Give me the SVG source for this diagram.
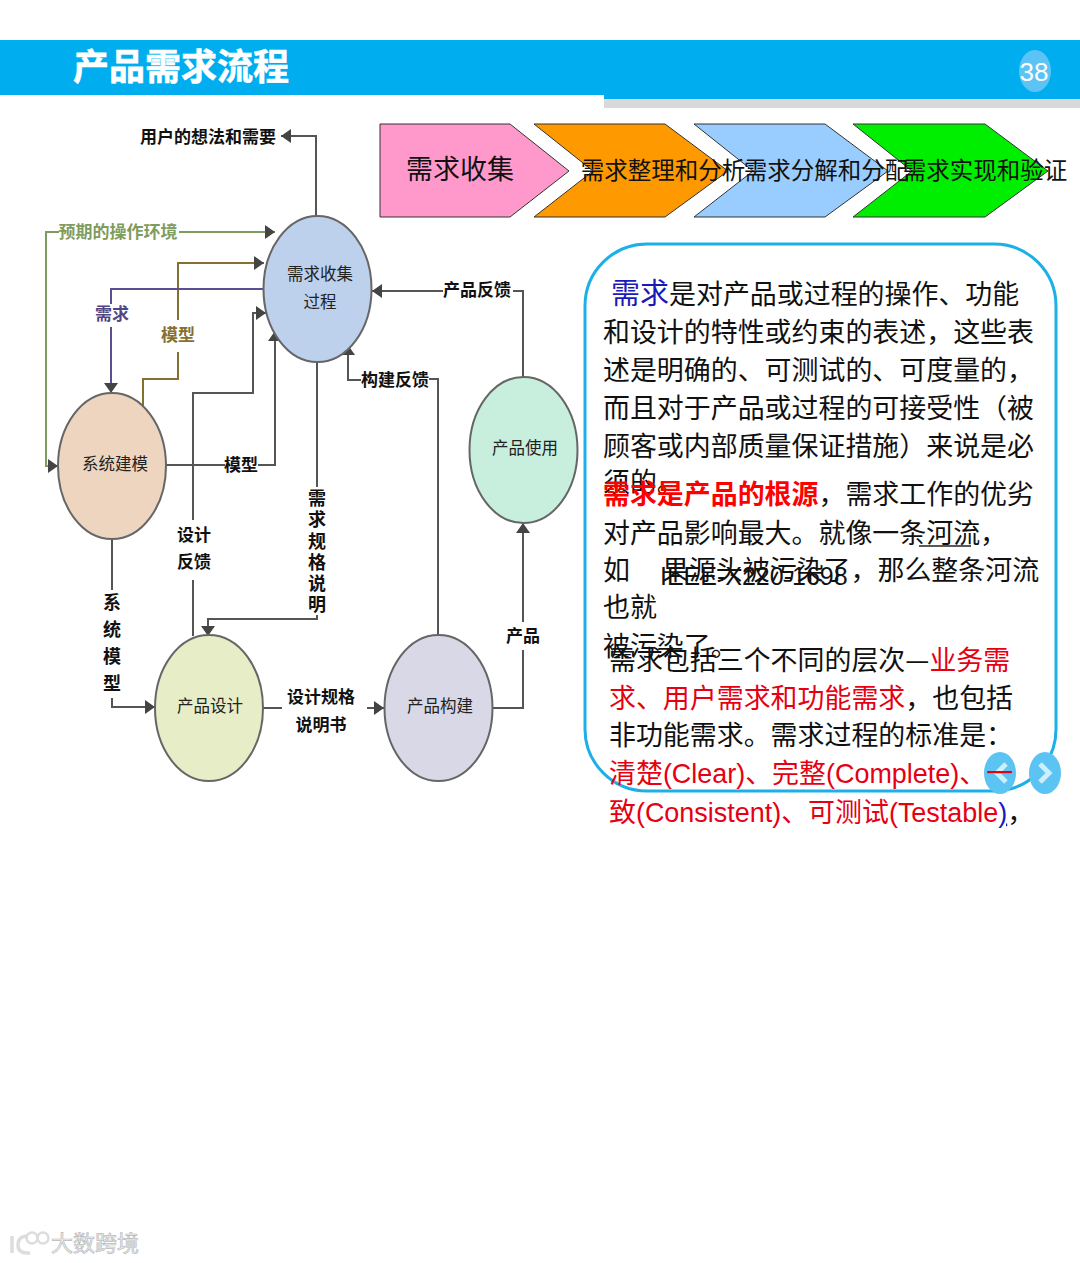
<svg xmlns="http://www.w3.org/2000/svg" width="1080" height="1263" viewBox="0 0 1080 1263">
<style>
text{font-family:"Noto Sans CJK SC","Noto Sans",sans-serif;fill:#111}
.n{stroke:#666;stroke-width:2}
.nt{font-size:16.500px;text-anchor:middle;fill:#222}
.l{font-size:17px;font-weight:700;text-anchor:middle;fill:#111}
.v{font-size:18px}
.c{fill:none;stroke:#555;stroke-width:2}
.p{font-size:26.950px}
.r{fill:#e60012}
.en{font-family:"Liberation Sans",Arial,sans-serif}
.ch{stroke:#333;stroke-width:1}
.cht{font-size:23.500px;text-anchor:middle}
</style>
<defs>
<marker id="a" markerUnits="userSpaceOnUse" markerWidth="12" markerHeight="14" refX="10" refY="7" orient="auto"><path d="M0 0L10 7L0 14Z" fill="#444"/></marker>
</defs>
<rect width="1080" height="1263" fill="#fff"/>
<g id="header">
<rect x="604" y="95" width="476" height="13" fill="#d9d9d9"/>
<rect x="0" y="40" width="1080" height="55" fill="#00aeef"/>
<rect x="604" y="95" width="476" height="4" fill="#00aeef"/>
<text x="73" y="80" font-size="36" font-weight="700" style="fill:#fff;stroke:#fff;stroke-width:.6">产品需求流程</text>
<ellipse cx="1035" cy="71" rx="16" ry="21" fill="#5cc4f5"/>
<text x="1034" y="81" font-size="26" text-anchor="middle" class="en" style="fill:#fff">38</text>
</g>
<g id="step-1"><path class="ch" d="M380 124H510L569 171L510 217H380Z" fill="#ff99cc"/><text class="cht" x="460" y="179" style="font-size:27px">需求收集</text></g>
<g id="step-2"><path class="ch" d="M534 124H665L728 171L665 217H534L593 171Z" fill="#ff9900"/></g>
<g id="step-3"><path class="ch" d="M694 124H825L888 171L825 217H694L753 171Z" fill="#99ccff"/></g>
<g id="step-4"><path class="ch" d="M853 124H985L1048 171L985 217H853L912 171Z" fill="#00ee00"/></g>
<g id="step-labels">
<text class="cht" x="663" y="179">需求整理和分析</text>
<text class="cht" x="826" y="179">需求分解和分配</text>
<text class="cht" x="985" y="179">需求实现和验证</text>
</g>
<g id="connectors">
<path class="c" d="M316 217V136H281" marker-end="url(#a)"/>
<path class="c" d="M59 232H46V466H58" style="stroke:#7f9c5f" marker-end="url(#a)"/>
<path class="c" d="M179 232H275" style="stroke:#7f9c5f" marker-end="url(#a)"/>
<path class="c" d="M143 407V379H178V352M178 320V263H264" style="stroke:#857030" marker-end="url(#a)"/>
<path class="c" d="M263 289H111V304M111 327V393" style="stroke:#5b4f8f" marker-end="url(#a)"/>
<path class="c" d="M193 636V580M193 520V393H253V313H266" marker-end="url(#a)"/>
<path class="c" d="M166 465H225M258 465H275V331" marker-end="url(#a)"/>
<path class="c" d="M317 362V487M317 615V619H208V636" marker-end="url(#a)"/>
<path class="c" d="M438 635V379H429M361 380H348V345" marker-end="url(#a)"/>
<path class="c" d="M523 377V291H513M443 291H372" marker-end="url(#a)"/>
<path class="c" d="M493 708H523V650M523 622V523" marker-end="url(#a)"/>
<path class="c" d="M112 539V590M112 698V707H155" marker-end="url(#a)"/>
<path class="c" d="M263 708H282M367 708H384" marker-end="url(#a)"/>
</g>
<g id="labels">
<text class="l" x="208" y="143">用户的想法和需要</text>
<text class="l" x="118" y="238" style="fill:#7f9c5f">预期的操作环境</text>
<text class="l" x="112" y="320" style="fill:#4f4785">需求</text>
<text class="l" x="178" y="341" style="fill:#857030">模型</text>
<text class="l" x="241" y="471">模型</text>
<text class="l" x="194" y="541">设计</text>
<text class="l" x="194" y="568">反馈</text>
<text class="l" x="477" y="296">产品反馈</text>
<text class="l" x="395" y="386">构建反馈</text>
<text class="l" x="523" y="642">产品</text>
<text class="l" x="321" y="703">设计规格</text>
<text class="l" x="321" y="731">说明书</text>
<text class="l v" x="317" y="505">需</text><text class="l v" x="317" y="526">求</text><text class="l v" x="317" y="548">规</text><text class="l v" x="317" y="569">格</text><text class="l v" x="317" y="590">说</text><text class="l v" x="317" y="611">明</text>
<text class="l v" x="112" y="609">系</text><text class="l v" x="112" y="636">统</text><text class="l v" x="112" y="663">模</text><text class="l v" x="112" y="690">型</text>
</g>
<g id="node-collect"><ellipse class="n" cx="317.500" cy="289" rx="54" ry="73" fill="#bdd0ec"/><text class="nt" x="320" y="280">需求收集</text><text class="nt" x="320" y="308">过程</text></g>
<g id="node-model"><ellipse class="n" cx="112" cy="466" rx="54" ry="73" fill="#edd5bf"/><text class="nt" x="115" y="470">系统建模</text></g>
<g id="node-design"><ellipse class="n" cx="209" cy="708" rx="54" ry="73" fill="#e7edc6"/><text class="nt" x="210" y="712">产品设计</text></g>
<g id="node-build"><ellipse class="n" cx="438.500" cy="708" rx="54" ry="73" fill="#d8d8e6"/><text class="nt" x="440" y="712">产品构建</text></g>
<g id="node-use"><ellipse class="n" cx="523.500" cy="450" rx="54" ry="73" fill="#c8eedd"/><text class="nt" x="525" y="454">产品使用</text></g>
<g id="panel">
<rect x="585" y="244" width="471" height="547" rx="62" ry="62" fill="none" stroke="#1cb0e6" stroke-width="3"/>
<ellipse cx="1000" cy="773" rx="16" ry="21" fill="#5cc4f2"/>
<ellipse cx="1045" cy="773" rx="16" ry="21" fill="#5cc4f2"/>
<path d="M1006 764L997 773L1006 782M1040 764L1049 773L1040 782" fill="none" stroke="#cdeefb" stroke-width="5"/>
</g>
<g id="text">
<text class="p" x="611" y="303.500"><tspan font-size="29" style="fill:#1a1ab8">需求</tspan>是对产品或过程的操作、功能</text>
<text class="p" x="603" y="341.500">和设计的特性或约束的表述，这些表</text>
<text class="p" x="603" y="379.500">述是明确的、可测试的、可度量的，</text>
<text class="p" x="603" y="417.500">而且对于产品或过程的可接受性（被</text>
<text class="p" x="603" y="455.500">顾客或内部质量保证措施）来说是必</text>
<text class="p" x="603" y="491.500">须的。</text>
<text class="p" x="603" y="503.500"><tspan font-weight="700" style="fill:#f00">需求是产品的根源</tspan>，需求工作的优劣</text>
<text class="p" x="603" y="542.500">对产品影响最大。就像一条河流，</text>
<path d="M919 546H971" stroke="#222" stroke-width="1.500"/>
<text class="p" x="603" y="579.500">如</text>
<text class="p" x="662" y="579.500">果源头被污染了，那么整条河流</text>
<text class="p en" x="660" y="585" style="font-family:'Liberation Sans',sans-serif;font-size:25px">IEEE-X220-1698</text>
<text class="p" x="603" y="616.500">也就</text>
<text class="p" x="603" y="655.500">被污染了。</text>
<text class="p" x="609" y="669.500">需求包括三个不同的层次—<tspan class="r">业务需</tspan></text>
<text class="p" x="609" y="707.500"><tspan class="r">求、用户需求和功能需求</tspan>，也包括</text>
<text class="p" x="609" y="744.500">非功能需求。需求过程的标准是：</text>
<text class="p r" x="609" y="782.500">清楚<tspan class="en">(Clear)</tspan>、完整<tspan class="en">(Complete)</tspan>、一</text>
<text class="p r" x="609" y="821.500">致<tspan class="en">(Consistent)</tspan>、可测试<tspan class="en">(Testable</tspan><tspan class="en" text-decoration="underline" style="fill:#1a1ab8">)</tspan><tspan style="fill:#111">，</tspan></text>
</g>
<g id="watermark">
<path d="M12 1236V1253M28 1236Q18 1236 18 1245Q18 1254 30 1253" fill="none" stroke="#ddd" stroke-width="3.500"/>
<circle cx="32" cy="1238" r="5.500" fill="none" stroke="#ddd" stroke-width="2.500"/><circle cx="43" cy="1238" r="5.500" fill="none" stroke="#ddd" stroke-width="2.500"/>
<text x="51" y="1251" font-size="22" style="fill:#eee;stroke:#bbb;stroke-width:.7">大数跨境</text>
</g>
</svg>
